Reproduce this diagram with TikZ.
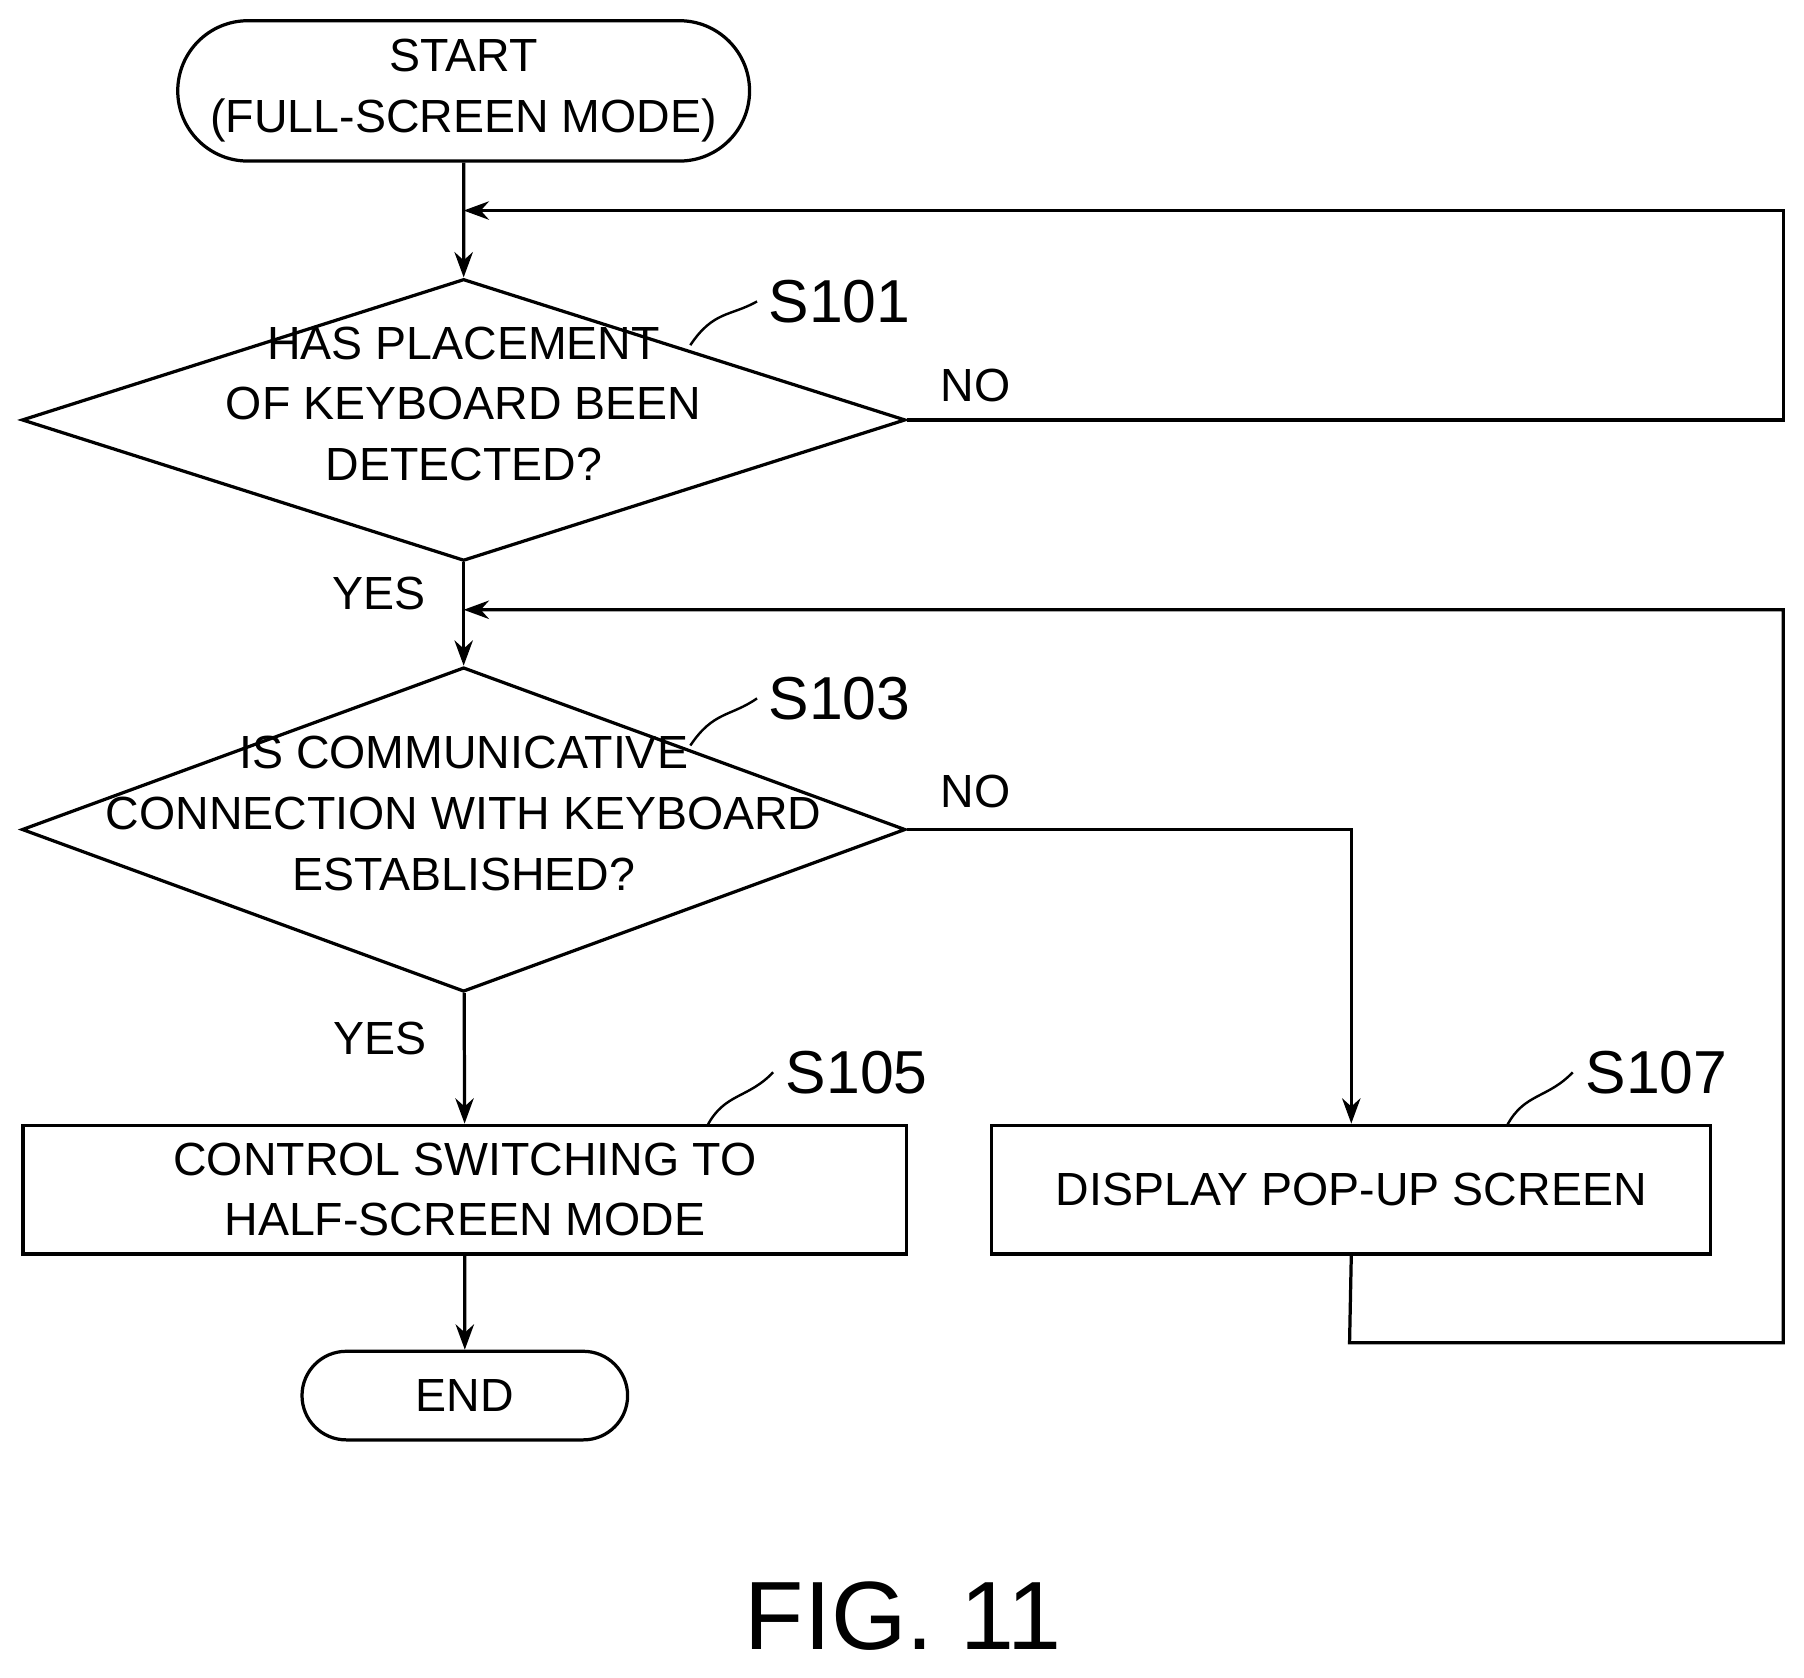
\documentclass[tikz,border=0pt]{standalone}
\usepackage{fontspec}
\setmainfont{Liberation Sans}
\usetikzlibrary{shapes.geometric, shapes.misc, positioning, arrows.meta}
\newcommand{\flatbox}[1]{\smash{\makebox[0pt]{\begin{tabular}{@{}c@{}}#1\end{tabular}}}}
\begin{document}
\begin{tikzpicture}[>={Stealth[length=2.2mm,width=1.6mm]}, line width=0.8pt,
  every node/.style={font=\fontsize{11.5}{15}\selectfont},
  terminal/.style={rounded rectangle, draw, align=center, inner sep=0pt},
  decision/.style={diamond, draw, inner sep=0pt,
    minimum width=7.68cm, minimum height=2.45cm},
  process/.style={rectangle, draw, align=center, minimum height=1.12cm},
  tag/.style={anchor=west},
  squig/.style={line width=0.6pt}]
\useasboundingbox (0,0) rectangle (15.68,-14.58);

% Nodes
\node (start) [terminal, minimum width=4.97cm, minimum height=1.22cm] at (4.03,-0.79) {START\\(FULL-SCREEN MODE)};
\node (s101) [decision] at (4.03,-3.65) {\flatbox{HAS PLACEMENT\\OF KEYBOARD BEEN\\DETECTED?}};
\node (s103) [decision, minimum height=2.82cm] at (4.03,-7.21) {\flatbox{IS COMMUNICATIVE\\CONNECTION WITH KEYBOARD\\ESTABLISHED?}};
\node (s105) [process, minimum width=7.68cm] at (4.04,-10.34) {CONTROL SWITCHING TO\\HALF-SCREEN MODE};
\node (s107) [process, minimum width=6.25cm] at (11.745,-10.34) {DISPLAY POP-UP SCREEN};
\node (end) [terminal, minimum width=2.83cm, minimum height=0.77cm] at (4.04,-12.13) {END};

% Loop points
\coordinate (j1) at (4.03,-1.83);
\coordinate (j2) at (4.03,-5.30);

% Arrows
\draw [->] (start) -- (s101);
\draw [->] (s101) -- node[pos=0.3, left=2mm] {YES} (s103);
\draw [->] (s103) -- node[pos=0.35, left=2mm] {YES} (s105);
\draw [->] (s105) -- (end);
\draw [->] (s101.east) -- (15.5,-3.65) |- (j1);
\draw [->] (s103.east) -- (s107.north |- s103.east) -- (s107.north);
\draw [->] (s107.south) -- (11.73,-11.67) -- (15.5,-11.67) |- (j2);
\node at (8.48,-3.35) {NO};
\node at (8.48,-6.88) {NO};

% Step labels
\draw [squig] (6.0,-3.0) .. controls (6.2,-2.7) and (6.35,-2.75) .. (6.58,-2.62);
\node [tag] at (6.55,-2.62) {\fontsize{15}{18}\selectfont S101};
\draw [squig] (6.0,-6.48) .. controls (6.2,-6.18) and (6.35,-6.23) .. (6.58,-6.07);
\node [tag] at (6.55,-6.07) {\fontsize{15}{18}\selectfont S103};
\draw [squig] (6.15,-9.78) .. controls (6.3,-9.5) and (6.5,-9.55) .. (6.72,-9.32);
\node [tag] at (6.7,-9.32) {\fontsize{15}{18}\selectfont S105};
\draw [squig] (13.1,-9.78) .. controls (13.25,-9.5) and (13.45,-9.55) .. (13.67,-9.32);
\node [tag] at (13.65,-9.32) {\fontsize{15}{18}\selectfont S107};

\node (fig) at (7.85,-14.05) {\fontsize{24}{28}\selectfont FIG. 11};
\end{tikzpicture}
\end{document}
